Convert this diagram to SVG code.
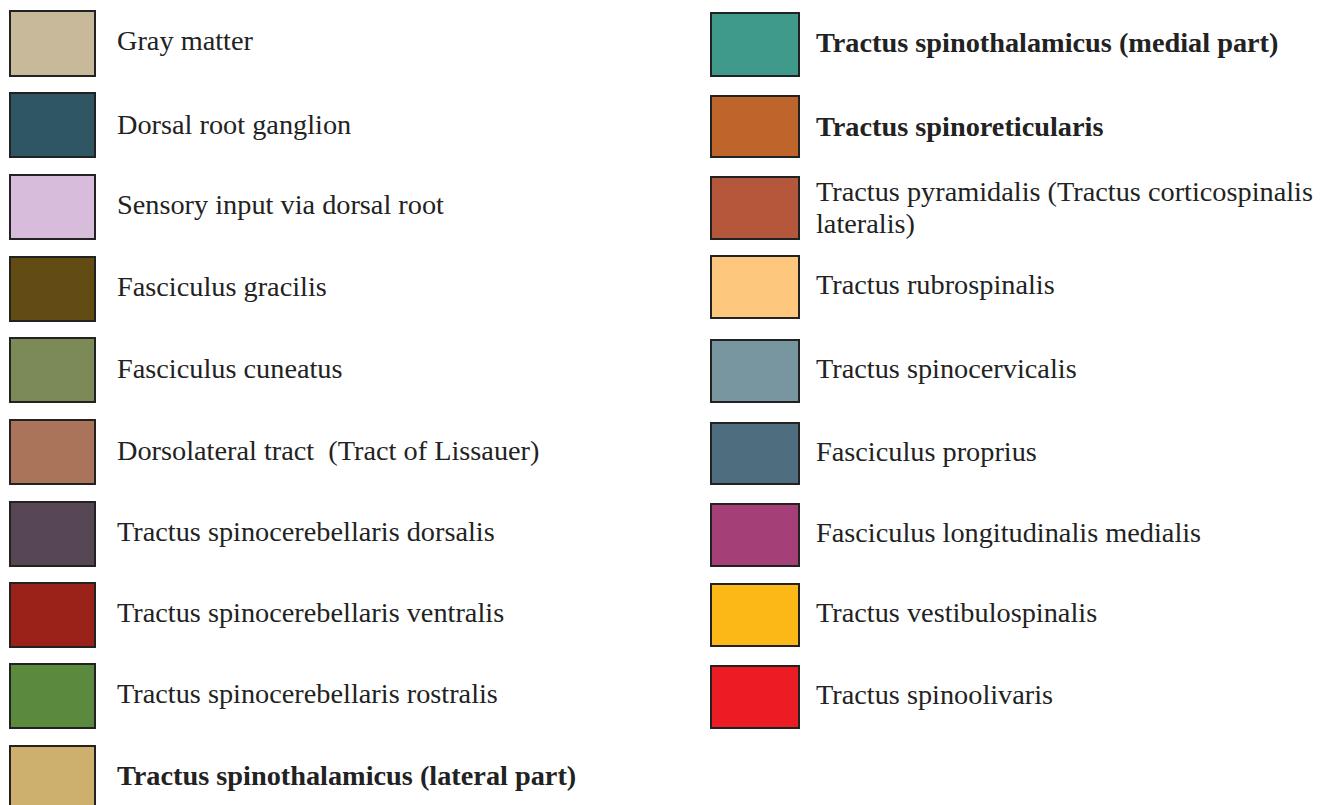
<svg xmlns="http://www.w3.org/2000/svg" width="1333" height="805" viewBox="0 0 1333 805">
<style>
.sw{stroke:#222;stroke-width:2}
.t{font-family:"Liberation Serif","Times New Roman",serif;font-size:28.3px;fill:#222;white-space:pre}
.b{font-weight:bold}
</style>
<rect width="1333" height="805" fill="#fff"/>
<g id="legend-left">
<g id="n1"><rect class="sw" x="10" y="11" width="85" height="65" fill="#c8b99a"/><text class="t" x="117" y="50">Gray matter</text></g>
<g id="n2"><rect class="sw" x="10" y="93" width="85" height="64" fill="#2f5763"/><text class="t" x="117" y="134">Dorsal root ganglion</text></g>
<g id="n3"><rect class="sw" x="10" y="175" width="85" height="64" fill="#d7bcdc"/><text class="t" x="117" y="214">Sensory input via dorsal root</text></g>
<g id="n4"><rect class="sw" x="10" y="257" width="85" height="64" fill="#634c14"/><text class="t" x="117" y="296">Fasciculus gracilis</text></g>
<g id="n5"><rect class="sw" x="10" y="338" width="85" height="64" fill="#7c8a58"/><text class="t" x="117" y="378">Fasciculus cuneatus</text></g>
<g id="n6"><rect class="sw" x="10" y="420" width="85" height="64" fill="#a97459"/><text class="t" x="117" y="460" xml:space="preserve">Dorsolateral tract  (Tract of Lissauer)</text></g>
<g id="n7"><rect class="sw" x="10" y="502" width="85" height="64" fill="#574755"/><text class="t" x="117" y="541">Tractus spinocerebellaris dorsalis</text></g>
<g id="n8"><rect class="sw" x="10" y="583" width="85" height="64" fill="#9a2218"/><text class="t" x="117" y="622">Tractus spinocerebellaris ventralis</text></g>
<g id="n9"><rect class="sw" x="10" y="664" width="85" height="64" fill="#5b8a3e"/><text class="t" x="117" y="703">Tractus spinocerebellaris rostralis</text></g>
<g id="n10"><rect class="sw" x="10" y="746" width="85" height="64" fill="#cdaf6e"/><text class="t b" x="117" y="785">Tractus spinothalamicus (lateral part)</text></g>
</g>
<g id="legend-right">
<g id="m1"><rect class="sw" x="711" y="13" width="88" height="63" fill="#3f9a8c"/><text class="t b" x="816" y="52">Tractus spinothalamicus (medial part)</text></g>
<g id="m2"><rect class="sw" x="711" y="96" width="88" height="61" fill="#bd652a"/><text class="t b" x="816" y="136">Tractus spinoreticularis</text></g>
<g id="m3"><rect class="sw" x="711" y="177" width="88" height="62" fill="#b5573a"/><text class="t" x="816" y="201">Tractus pyramidalis (Tractus corticospinalis</text><text class="t" x="816" y="233">lateralis)</text></g>
<g id="m4"><rect class="sw" x="711" y="256" width="88" height="62" fill="#fdc87e"/><text class="t" x="816" y="294">Tractus rubrospinalis</text></g>
<g id="m5"><rect class="sw" x="711" y="340" width="88" height="62" fill="#7896a0"/><text class="t" x="816" y="378">Tractus spinocervicalis</text></g>
<g id="m6"><rect class="sw" x="711" y="423" width="88" height="61" fill="#4e6e80"/><text class="t" x="816" y="461">Fasciculus proprius</text></g>
<g id="m7"><rect class="sw" x="711" y="504" width="88" height="62" fill="#a43f78"/><text class="t" x="816" y="542">Fasciculus longitudinalis medialis</text></g>
<g id="m8"><rect class="sw" x="711" y="584" width="88" height="62" fill="#fcb817"/><text class="t" x="816" y="622">Tractus vestibulospinalis</text></g>
<g id="m9"><rect class="sw" x="711" y="666" width="88" height="62" fill="#ec1c24"/><text class="t" x="816" y="704">Tractus spinoolivaris</text></g>
</g>
</svg>
